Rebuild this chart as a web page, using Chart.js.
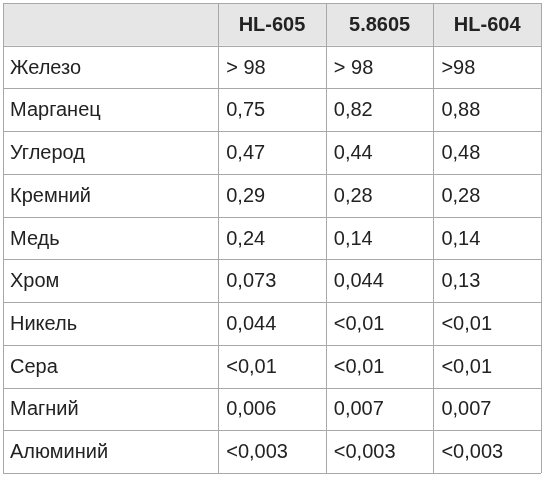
<!DOCTYPE html>
<html>
<head>
<meta charset="utf-8">
<script src="https://cdn.jsdelivr.net/npm/chart.js@4"></script>
<style>
  html, body { margin: 0; padding: 0; background: #fff; }
  #wrap { width: 545px; height: 480px; }
</style>
</head>
<body>
<div id="wrap"><canvas id="tbl"></canvas></div>
<script>
// table contents
const headers = ['HL-605', '5.8605', 'HL-604'];
const elements = ['Железо', 'Марганец', 'Углерод', 'Кремний', 'Медь', 'Хром', 'Никель', 'Сера', 'Магний', 'Алюминий'];
const hl605 = ['> 98', '0,75', '0,47', '0,29', '0,24', '0,073', '0,044', '<0,01', '0,006', '<0,003'];
const s8605 = ['> 98', '0,82', '0,44', '0,28', '0,14', '0,044', '<0,01', '<0,01', '0,007', '<0,003'];
const hl604 = ['>98', '0,88', '0,48', '0,28', '0,14', '0,13', '<0,01', '<0,01', '0,007', '<0,003'];

// first column spans two slots
const colKeys = ['name', 'name2', 'c0', 'c1', 'c2'];
const rowKeys = ['head'].concat(elements.map((e, i) => 'r' + i));
const columns = [hl605, s8605, hl604];

const tablePlugin = {
    id: 'tableCells',
    afterDraw(chart) {
        const ctx = chart.ctx;
        const xs = chart.scales.x, ys = chart.scales.y;
        const cw = xs.width / colKeys.length;
        const rh = ys.height / rowKeys.length;
        const font = '20px "Liberation Sans", "DejaVu Sans", sans-serif';
        const bold = 'bold 20px "Liberation Sans", "DejaVu Sans", sans-serif';

        function cellBox(c0, c1, r) {
            const left = xs.getPixelForValue(c0) - cw / 2;
            const right = xs.getPixelForValue(c1) + cw / 2;
            const yc = ys.getPixelForValue(r);
            return { left: left, right: right, top: yc - rh / 2, bottom: yc + rh / 2, yc: yc };
        }

        ctx.save();
        // header background
        const h = cellBox(0, 4, 0);
        ctx.fillStyle = '#e6e6e6';
        ctx.fillRect(h.left, h.top, h.right - h.left, h.bottom - h.top);

        ctx.textBaseline = 'middle';
        ctx.fillStyle = '#222';
        for (let r = 0; r < rowKeys.length; r++) {
            const name = cellBox(0, 1, r);
            if (r > 0) {
                ctx.font = font;
                ctx.textAlign = 'left';
                ctx.fillText(elements[r - 1], name.left + 7, name.yc + 1);
            }
            for (let c = 0; c < 3; c++) {
                const b = cellBox(c + 2, c + 2, r);
                if (r === 0) {
                    ctx.font = bold;
                    ctx.textAlign = 'center';
                    ctx.fillText(headers[c], (b.left + b.right) / 2, b.yc + 1);
                } else {
                    ctx.font = font;
                    ctx.textAlign = 'left';
                    ctx.fillText(columns[c][r - 1], b.left + 8, b.yc + 1);
                }
            }
        }

        // borders
        ctx.strokeStyle = '#a8a8a8';
        ctx.lineWidth = 1;
        ctx.beginPath();
        for (let r = 0; r <= rowKeys.length; r++) {
            const y = Math.round(ys.top + r * rh) + 0.5;
            ctx.moveTo(xs.left, y); ctx.lineTo(xs.right, y);
        }
        [0, 2, 3, 4, 5].forEach(function (c) {
            const x = Math.round(xs.left + c * cw) + 0.5;
            ctx.moveTo(x, ys.top); ctx.lineTo(x, ys.bottom);
        });
        ctx.stroke();
        ctx.restore();
    }
};

new Chart(document.getElementById('tbl'), {
    type: 'bar',
    data: { labels: colKeys, datasets: [] },
    options: {
        responsive: true,
        maintainAspectRatio: false,
        animation: false,
        layout: { padding: { left: 3, right: 4, top: 3, bottom: 7 } },
        plugins: { legend: { display: false }, tooltip: { enabled: false } },
        scales: {
            x: { type: 'category', labels: colKeys, offset: true, display: false },
            y: { type: 'category', labels: rowKeys, offset: true, display: false }
        }
    },
    plugins: [tablePlugin]
});
</script>
</body>
</html>
